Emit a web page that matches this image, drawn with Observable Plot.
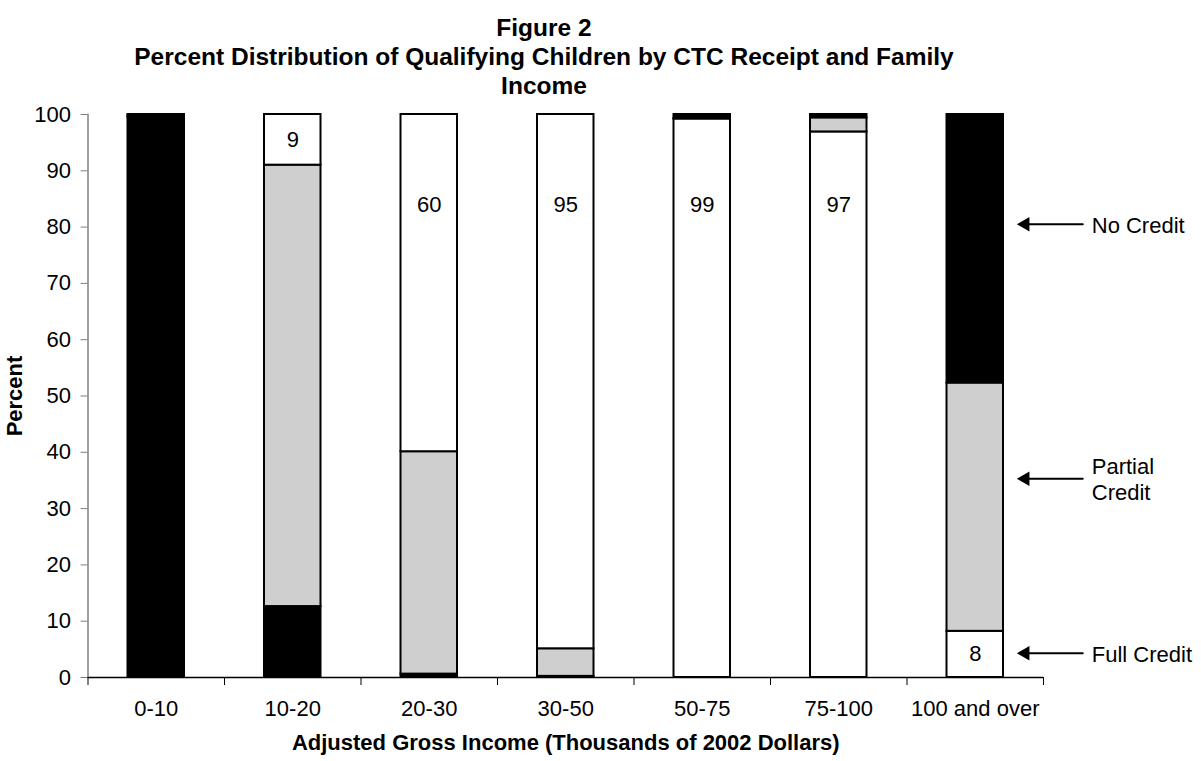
<!DOCTYPE html>
<html><head><meta charset="utf-8">
<script src="https://cdn.jsdelivr.net/npm/d3@7"></script>
<script src="https://cdn.jsdelivr.net/npm/@observablehq/plot@0.6"></script>
<style>
body{margin:0;background:#fff;font-family:"Liberation Sans",Arial,sans-serif;}
#title{height:100px;width:1088px;text-align:center;font-weight:bold;font-size:24.5px;line-height:29px;padding-top:13px;box-sizing:border-box;color:#000;}
#chart svg{display:block;}
</style></head><body>
<div id="title">Figure 2<br>Percent Distribution of Qualifying Children by CTC Receipt and Family<br>Income</div>
<div id="chart"></div>
<script>
// ---- data ----
const categories = ["0-10", "10-20", "20-30", "30-50", "50-75", "75-100", "100 and over"];
const noCredit      = [99.5, 12.6, 0.6, 0.2, 0.7, 0.6, 47.7];
const partialCredit = [0.3, 78.4, 39.5, 4.9, 0.1, 2.5, 44.1];
const fullCredit    = [0.2, 9.0, 59.9, 94.9, 99.2, 96.9, 8.2];
const fullCreditLabels = [null, "9", "60", "95", "99", "97", "8"];
// which series sits at the bottom of each stacked bar
const bottomSeries = ["No Credit", "No Credit", "No Credit", "No Credit", "Full Credit", "Full Credit", "Full Credit"];
const statuses = ["No Credit", "Partial Credit", "Full Credit"];
const statusColors = ["#000000", "#cfcfcf", "#ffffff"];
const yTicks = [0, 10, 20, 30, 40, 50, 60, 70, 80, 90, 100];
const noteLabels = ["No Credit", "Partial\nCredit", "Full Credit"];
const noteY = [80.5, 35.3, 4.3];
const bigLabelLevel = 84;

// ---- layout ----
const W = 1201, H = 661;
const mL = 87.5, mR = 158, mT = 14, mB = 84;
const bw = (W - mL - mR) / categories.length;
const NOTE = "note";

// ---- build table ----
const rows = [];
categories.forEach((c, i) => {
  const vals = {"No Credit": noCredit[i], "Partial Credit": partialCredit[i], "Full Credit": fullCredit[i]};
  const order = bottomSeries[i] === "No Credit" ? statuses : statuses.slice().reverse();
  order.forEach(s => rows.push({income: c, status: s, value: vals[s]}));
});
const labelRows = [];
categories.forEach((c, i) => {
  if (!fullCreditLabels[i]) return;
  const base = bottomSeries[i] === "Full Credit" ? 0 : noCredit[i] + partialCredit[i];
  const v = fullCredit[i];
  labelRows.push({income: c, label: fullCreditLabels[i], y: v < 20 ? base + v / 2 : bigLabelLevel});
});
const notes = noteLabels.map((t, i) => ({label: t, y: noteY[i]}));
const lastCat = categories[categories.length - 1];

const font = "Liberation Sans, Arial, sans-serif";
const plot = Plot.plot({
  width: W, height: H,
  marginLeft: mL, marginRight: mR, marginTop: mT, marginBottom: mB,
  style: {fontFamily: font, fontSize: "22px", color: "#000", background: "#fff", overflow: "visible"},
  x: {type: "band", domain: [...categories, NOTE], range: [mL, mL + bw * (categories.length + 1)], padding: 0, round: false},
  y: {domain: [0, 100]},
  color: {domain: statuses, range: statusColors},
  marks: [
    Plot.barY(rows, Plot.stackY({x: "income", y: "value", fill: "status", stroke: "#000", strokeWidth: 2, insetLeft: 40, insetRight: 40})),
    Plot.frame({anchor: "left", stroke: "#808080", strokeWidth: 1.5}),
    Plot.ruleY([0], {stroke: "#000", strokeWidth: 1.5}),
    Plot.axisY({ticks: yTicks, tickSize: 7, tickPadding: 10, stroke: "#808080", fontSize: 22, label: null}),
    Plot.axisY({ticks: [], label: "Percent", labelAnchor: "center", labelArrow: "none", labelOffset: 82, fontSize: 22, fontWeight: "bold", dy: -41}),
    Plot.axisX({ticks: [...categories, NOTE], tickSize: 8, tickFormat: () => "", dx: -bw / 2, stroke: "#000", label: null}),
    Plot.axisX({ticks: categories, tickSize: 0, tickPadding: 23, fontSize: 22, label: null}),
    Plot.axisX({ticks: [], label: "Adjusted Gross Income (Thousands of 2002 Dollars)", labelAnchor: "center", labelArrow: "none", labelOffset: 72, fontSize: 22, fontWeight: "bold"}),
    Plot.text(labelRows, {x: "income", y: "y", text: "label", fontSize: 22, fill: "#000"}),
    Plot.arrow(notes, {x1: () => NOTE, x2: () => lastCat, y1: "y", y2: "y", insetStart: 29, insetEnd: 50, headLength: 0, stroke: "#000", strokeWidth: 2}),
    Plot.dot(notes, {x: () => lastCat, y: "y", symbol: "triangle", r: 5.4, rotate: -90, fill: "#000", stroke: "none", dx: 50}),
    Plot.text(notes, {x: () => NOTE, y: "y", text: "label", textAnchor: "start", dx: -20, fontSize: 22, lineHeight: 1.18, fill: "#000"})
  ]
});
document.getElementById("chart").appendChild(plot);
</script>
</body></html>
